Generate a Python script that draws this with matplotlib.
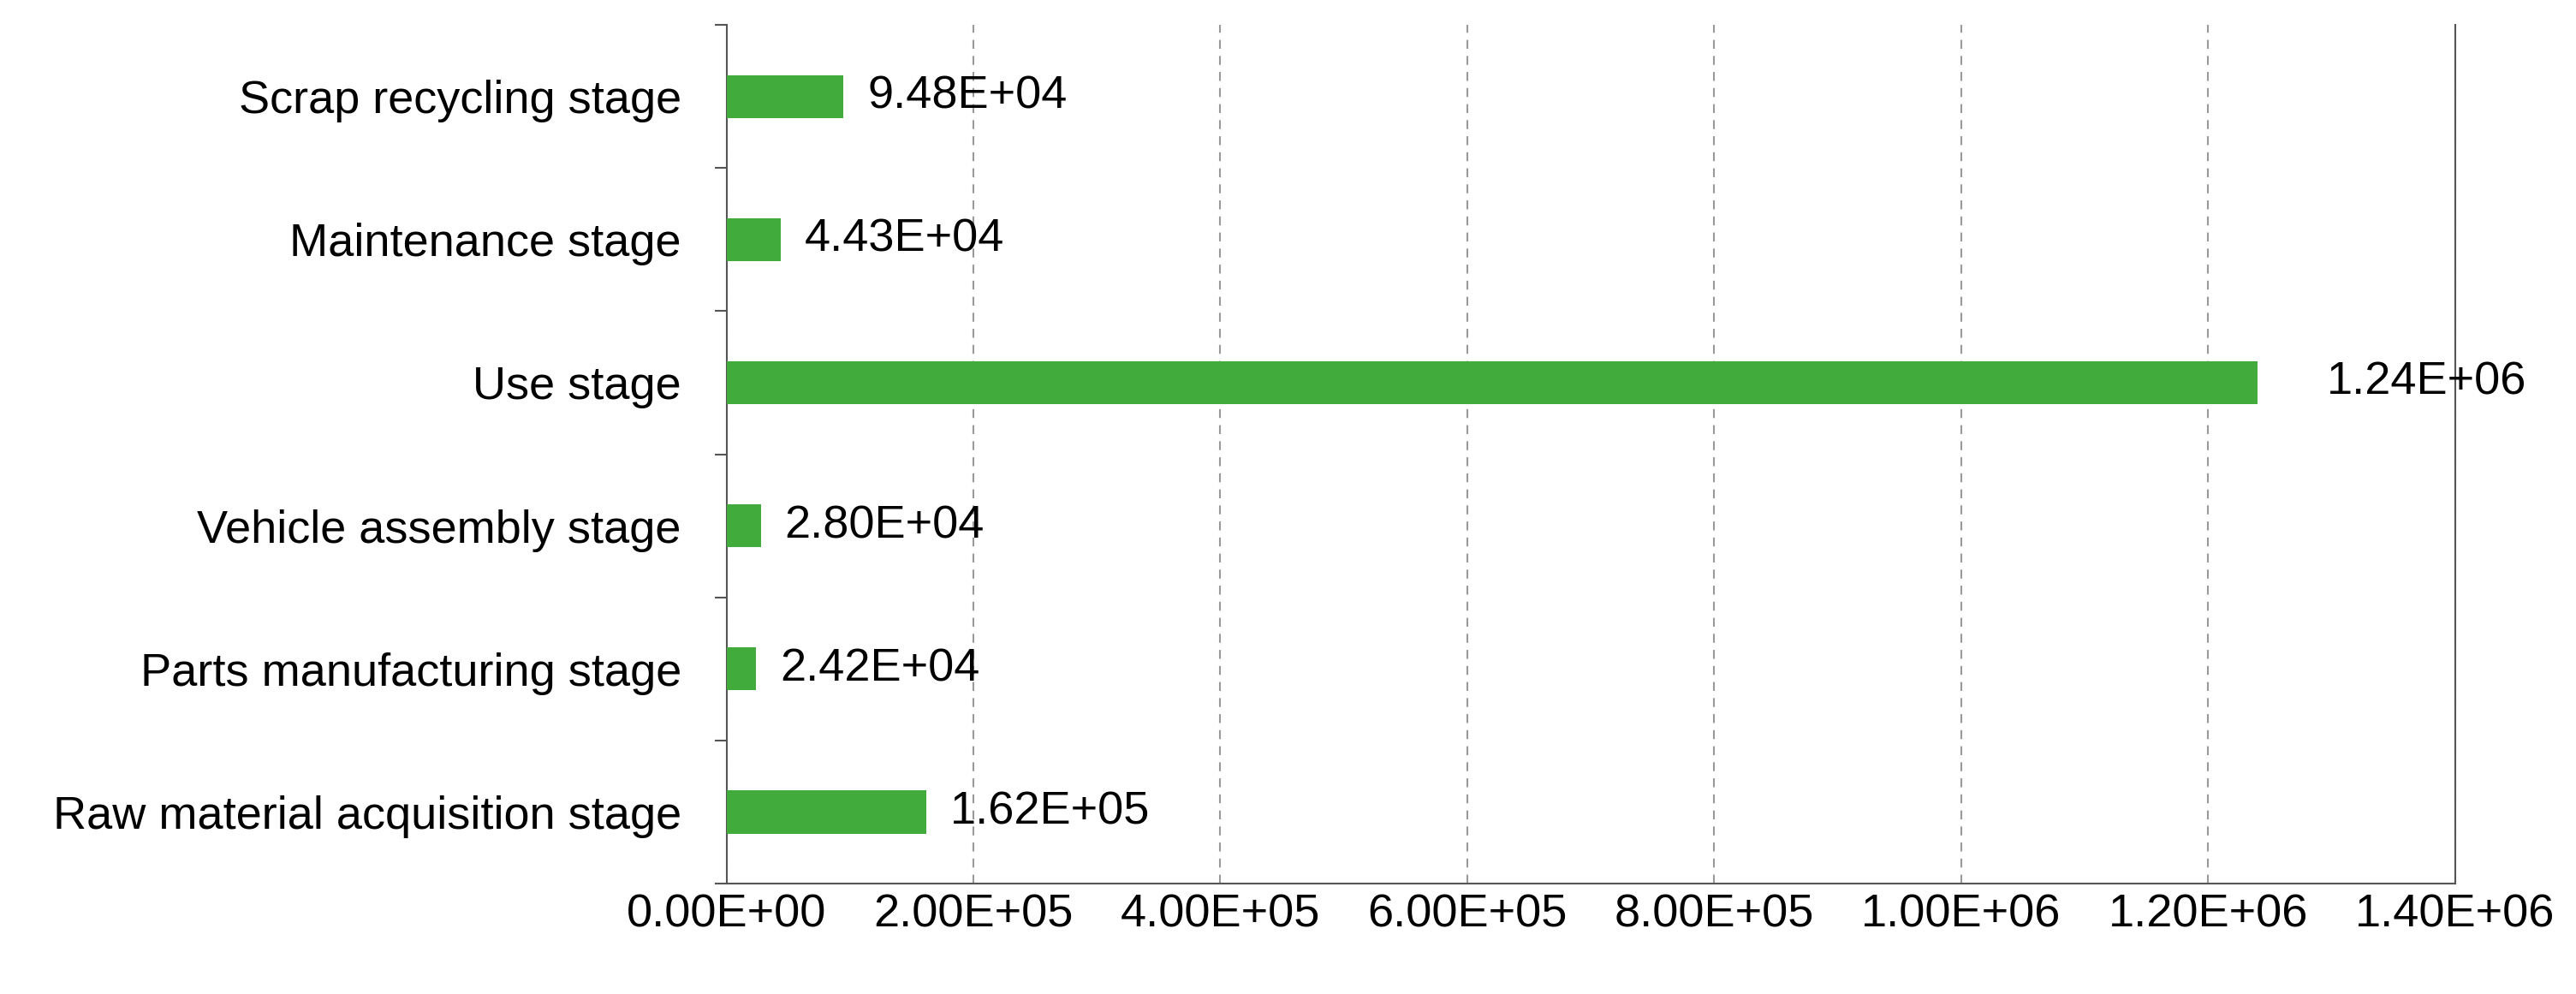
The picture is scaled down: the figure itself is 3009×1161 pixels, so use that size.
import matplotlib
matplotlib.use("Agg")
import matplotlib.pyplot as plt
from matplotlib.ticker import FuncFormatter, MultipleLocator

categories = ["Raw material acquisition stage", "Parts manufacturing stage", "Vehicle assembly stage",
              "Use stage", "Maintenance stage", "Scrap recycling stage"]
values = [1.62e5, 2.42e4, 2.80e4, 1.24e6, 4.43e4, 9.48e4]
labels = ["1.62E+05", "2.42E+04", "2.80E+04", "1.24E+06", "4.43E+04", "9.48E+04"]

plt.rcParams['font.family'] = ['Liberation Sans', 'DejaVu Sans']
fig = plt.figure(figsize=(30.09, 11.61), dpi=100)
ax = fig.add_axes([0.282, 0.111, 0.671, 0.864])
y = list(range(len(categories)))
ax.barh(y, values, height=0.3, color="#41AB3B", zorder=3)
for yi, v, l in zip(y, values, labels):
    off = 58 if v > 1e6 else 20
    ax.annotate(l, (v, yi), xytext=(off, 0), textcoords="offset points", va="center", ha="left", fontsize=39)
ax.set_xlim(0, 1.4e6)
ax.set_ylim(-0.5, 5.5)
ax.xaxis.set_major_locator(MultipleLocator(2e5))
ax.xaxis.set_major_formatter(FuncFormatter(lambda x, p: "%.2E" % x))
ax.set_yticks(y)
ax.set_yticklabels(categories)
ax.set_yticks([i + 0.5 for i in range(-1, 6)], minor=True)
ax.tick_params(axis='y', which='major', length=0, pad=38, labelsize=39)
ax.tick_params(axis='y', which='minor', length=10, width=1.5, color="#555555")
ax.tick_params(axis='x', length=0, pad=8, labelsize=39)
ax.grid(axis='x', linestyle=(0, (5, 4)), color="#999999", linewidth=1.5, zorder=0)
ax.spines['top'].set_visible(False)
for s in ['left', 'bottom', 'right']:
    ax.spines[s].set_color("#555555")
    ax.spines[s].set_linewidth(1.5)
fig.savefig("out.png", dpi=100)
